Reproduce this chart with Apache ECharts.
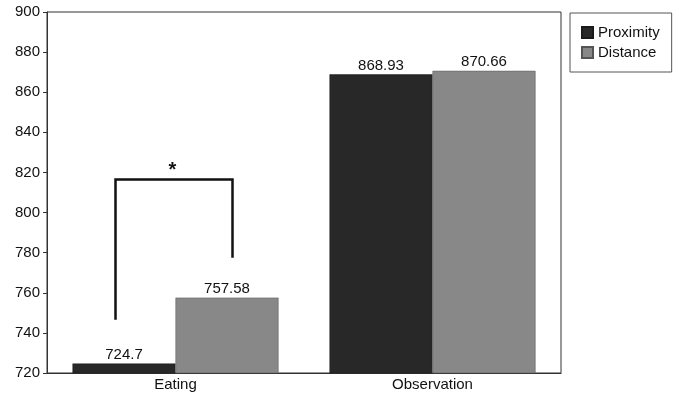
<!DOCTYPE html>
<html><head><meta charset="utf-8">
<script src="https://cdn.jsdelivr.net/npm/echarts@6/dist/echarts.min.js"></script>
<style>html,body{margin:0;padding:0;background:#fff}#c{width:683px;height:404px}</style>
</head><body><div id="c"></div>
<script>
const categories = ['Eating', 'Observation'];
const proximity = [724.7, 868.93];
const distance = [757.58, 870.66];
const yTicks = [720, 900, 20];
// significance bracket (data values)
const bracketTop = 816.5;
const bracketLeftBottom = 746.5;
const bracketRightBottom = 777.5;

const font = 'Liberation Sans, Arial, sans-serif';
const chart = echarts.init(document.getElementById('c'));
chart.setOption({
  animation: false,
  backgroundColor: '#fff',
  grid: {left: 47, right: 122, top: 12, bottom: 31, show: true, borderColor: '#333', borderWidth: 1},
  legend: {
    orient: 'vertical', left: 570, top: 13, itemWidth: 11, itemHeight: 11, itemGap: 5,
    icon: 'rect',
    padding: [12, 12, 12, 11], borderColor: '#555', borderWidth: 1,
    textStyle: {fontFamily: font, fontSize: 15, color: '#111'},
    data: ['Proximity', 'Distance']
  },
  xAxis: {
    type: 'category', data: categories,
    axisLine: {lineStyle: {color: '#333'}}, axisTick: {show: false},
    axisLabel: {fontFamily: font, fontSize: 15, color: '#111', margin: 4}
  },
  yAxis: {
    type: 'value', min: yTicks[0], max: yTicks[1], interval: yTicks[2],
    axisLine: {show: true, lineStyle: {color: '#333'}},
    axisTick: {show: true, length: 4, lineStyle: {color: '#333'}},
    splitLine: {show: false},
    axisLabel: {fontFamily: font, fontSize: 15, color: '#111', margin: 7}
  },
  series: [
    {name: 'Proximity', type: 'bar', data: proximity, barWidth: 103, barGap: '0%',
     itemStyle: {color: '#282828', borderColor: '#1a1a1a', borderWidth: 0.5},
     label: {show: true, position: 'top', fontFamily: font, fontSize: 15, color: '#111', distance: 1}},
    {name: 'Distance', type: 'bar', data: distance, barWidth: 103,
     itemStyle: {color: '#888888', borderColor: '#555', borderWidth: 0.5},
     label: {show: true, position: 'top', fontFamily: font, fontSize: 15, color: '#111', distance: 1}}
  ]
});
const cx = chart.convertToPixel({xAxisIndex: 0}, categories[0]);
const yTop = chart.convertToPixel({yAxisIndex: 0}, bracketTop);
const yL = chart.convertToPixel({yAxisIndex: 0}, bracketLeftBottom);
const yR = chart.convertToPixel({yAxisIndex: 0}, bracketRightBottom);
const xl = cx - 60, xr = cx + 57;
chart.setOption({
  graphic: [
    {type: 'polyline', shape: {points: [[xl, yL], [xl, yTop], [xr, yTop], [xr, yR]]},
     style: {stroke: '#111', lineWidth: 2.5, fill: null}},
    {type: 'text', x: cx - 7, y: yTop - 19,
     style: {text: '*', fontFamily: font, fontSize: 20, fontWeight: 'bold', fill: '#111'}}
  ]
});
</script></body></html>
